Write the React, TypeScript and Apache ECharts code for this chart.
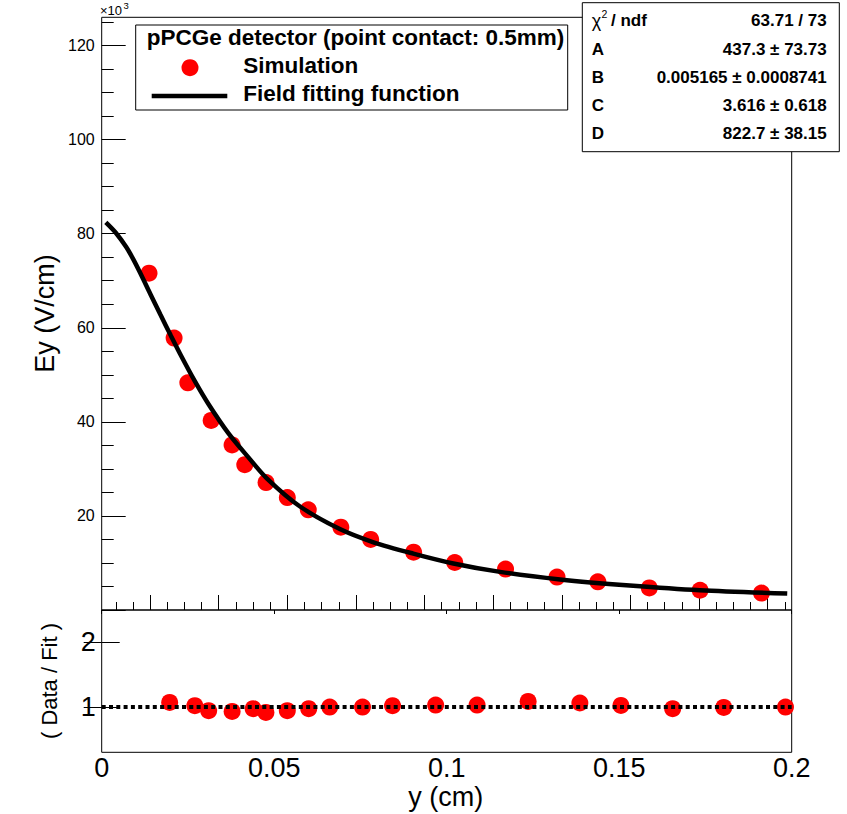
import React, { useEffect, useRef } from "react";
import * as echarts from "echarts";

// ---- data ----
const xPositions = [0.0197, 0.027, 0.031, 0.0378, 0.0439, 0.0476, 0.0538, 0.06, 0.0661, 0.0756, 0.0843, 0.0968, 0.1088, 0.1236, 0.1386, 0.1505, 0.1655, 0.1803, 0.1982];
const eyValues = [71.6, 57.8, 48.3, 40.3, 35.1, 30.9, 27.1, 23.9, 21.3, 17.6, 15.0, 12.3, 10.1, 8.7, 7.0, 6.0, 4.7, 4.2, 3.6];
const ratioValues = [1.071, 1.02, 0.943, 0.932, 0.974, 0.917, 0.943, 0.974, 1.0, 1.0, 1.02, 1.03, 1.03, 1.087, 1.062, 1.025, 0.974, 0.994, 1.0];
const fitX = [0.0071, 0.01, 0.013, 0.015, 0.0171, 0.02, 0.023, 0.026, 0.029, 0.033, 0.037, 0.0428, 0.0486, 0.054, 0.0637, 0.0753, 0.0851, 0.0967, 0.1084, 0.122, 0.1395, 0.1598, 0.1802, 0.2057];
const fitY = [82.4, 80.2, 77.2, 74.7, 71.7, 67.3, 62.8, 58.4, 54.1, 48.7, 43.8, 37.6, 32.5, 28.0, 22.0, 17.2, 14.4, 12.0, 9.9, 8.1, 6.5, 5.2, 4.2, 3.5];
const refLineX = [0, 0.2];
const refLineY = [1, 1];

const topYMajorTicks = [0, 20, 40, 60, 80, 100, 120];
const topYLabels = [20, 40, 60, 80, 100, 120];
const topYMinorTicks = [5, 10, 15, 25, 30, 35, 45, 50, 55, 65, 70, 75, 85, 90, 95, 105, 110, 115, 125];
const topXMajorTicks = [0.02, 0.04, 0.06, 0.08, 0.1, 0.12, 0.14, 0.16, 0.18, 0.2];
const topXMinorTicks = [0.01, 0.015, 0.025, 0.03, 0.035, 0.045, 0.05, 0.055, 0.065, 0.07, 0.075, 0.085, 0.09, 0.095, 0.105, 0.11, 0.115, 0.125, 0.13, 0.135, 0.145, 0.15, 0.155, 0.165, 0.17, 0.175, 0.185, 0.19, 0.195, 0.205];
const ratioTicks = [1, 2];

const legendTitle = "pPCGe detector (point contact: 0.5mm)";
const legendSim = "Simulation";
const legendFit = "Field fitting function";
const statNames = ["A", "B", "C", "D"];
const statValues = ["437.3 \u00b1 73.73", "0.005165 \u00b1 0.0008741", "3.616 \u00b1 0.618", "822.7 \u00b1 38.15"];
const chiValue = "63.71 / 73";

const FF = "'Liberation Sans', Arial, Helvetica, sans-serif";

function txt(x: number, y: number, text: string, font: string, align: string = "left", extra: any = {}) {
  return {
    type: "text",
    x,
    y,
    z: 100,
    ...extra,
    style: {
      text,
      font,
      fill: "#000",
      textAlign: align,
      align,
      textVerticalAlign: "middle",
      verticalAlign: "middle",
    },
  };
}

export default function App() {
  const ref = useRef<HTMLDivElement>(null);
  useEffect(() => {
    if (!ref.current) return;
    const chart = echarts.init(ref.current, undefined, { renderer: "svg" });
    const tickStyle = { color: "#000", width: 1 };

    const graphic: any[] = [];
    // legend box
    graphic.push({
      type: "rect",
      z: 99,
      shape: { x: 135.7, y: 25, width: 432, height: 85 },
      style: { fill: "#fff", stroke: "#000", lineWidth: 1 },
    });
    graphic.push(txt(146.7, 37.2, legendTitle, `bold 22.5px ${FF}`));
    graphic.push({ type: "circle", z: 100, shape: { cx: 190, cy: 67.7, r: 8.5 }, style: { fill: "#ff0000" } });
    graphic.push(txt(243.3, 65.5, legendSim, `bold 22.5px ${FF}`));
    graphic.push({ type: "line", z: 100, shape: { x1: 151.7, y1: 96, x2: 227.3, y2: 96 }, style: { stroke: "#000", lineWidth: 4.5 } });
    graphic.push(txt(243.3, 93.9, legendFit, `bold 22.5px ${FF}`));

    // stats box
    graphic.push({
      type: "rect",
      z: 99,
      shape: { x: 582.3, y: 2.7, width: 257, height: 149 },
      style: { fill: "#fff", stroke: "#000", lineWidth: 1 },
    });
    const rowY = [20.9, 49.2, 77.5, 105.9, 133.0];
    graphic.push(txt(591.7, rowY[0], "\u03c7", `18px ${FF}`));
    graphic.push(txt(601.5, rowY[0] - 6.5, "2", `10.5px ${FF}`));
    graphic.push(txt(611, rowY[0], "/ ndf", `bold 17px ${FF}`));
    graphic.push(txt(826.7, rowY[0], chiValue, `bold 17px ${FF}`, "right"));
    statNames.forEach((n, i) => {
      graphic.push(txt(591.7, rowY[i + 1], n, `bold 17px ${FF}`));
      graphic.push(txt(826.7, rowY[i + 1], statValues[i], `bold 17px ${FF}`, "right"));
    });

    // axis titles
    graphic.push(txt(45, 313.5, "Ey (V/cm)", `27px ${FF}`, "center", { rotation: Math.PI / 2 }));
    graphic.push(txt(49.5, 681, "( Data / Fit )", `22px ${FF}`, "center", { rotation: Math.PI / 2 }));
    graphic.push(txt(445.7, 797.3, "y (cm)", `27px ${FF}`, "center"));
    graphic.push(txt(100, 10.3, "\u00d710", `13px ${FF}`));
    graphic.push(txt(123.5, 5.2, "3", `9.5px ${FF}`));

    const hidden = { show: false };
    chart.setOption({
      animation: false,
      backgroundColor: "#fff",
      textStyle: { fontFamily: FF },
      grid: [
        { left: 101.7, top: 17.3, width: 690, height: 592.7, show: true, borderColor: "#000", borderWidth: 1, backgroundColor: "transparent" },
        { left: 101.7, top: 610, width: 690, height: 142.3, show: true, borderColor: "#000", borderWidth: 1, backgroundColor: "transparent" },
      ],
      xAxis: [
        {
          type: "value", gridIndex: 0, position: "bottom", min: 0.0059, max: 0.207,
          axisLine: hidden, splitLine: hidden, axisLabel: hidden,
          axisTick: { show: true, inside: true, length: 15, customValues: topXMajorTicks, lineStyle: tickStyle },
        },
        {
          type: "value", gridIndex: 0, position: "bottom", min: 0.0059, max: 0.207,
          axisLine: hidden, splitLine: hidden, axisLabel: hidden,
          axisTick: { show: true, inside: true, length: 8, customValues: topXMinorTicks, lineStyle: tickStyle },
        },
        {
          type: "value", gridIndex: 1, position: "bottom", min: 0, max: 0.2, interval: 0.05,
          axisLine: hidden, splitLine: hidden, axisTick: hidden,
          axisLabel: { show: true, fontSize: 27, color: "#000", margin: 2, fontFamily: FF, formatter: (v: number) => String(v) },
        },
        {
          type: "value", gridIndex: 1, position: "top", min: 0, max: 0.2, interval: 0.05,
          axisLine: hidden, splitLine: hidden, axisLabel: hidden,
          axisTick: { show: true, inside: true, length: 4, lineStyle: tickStyle },
        },
      ],
      yAxis: [
        {
          type: "value", gridIndex: 0, position: "left", min: 0, max: 126,
          axisLine: hidden, splitLine: hidden,
          axisTick: { show: true, inside: true, length: 24, customValues: topYMajorTicks, lineStyle: tickStyle },
          axisLabel: { show: true, fontSize: 16, color: "#000", margin: 7, fontFamily: FF, customValues: topYLabels },
        },
        {
          type: "value", gridIndex: 0, position: "left", min: 0, max: 126,
          axisLine: hidden, splitLine: hidden, axisLabel: hidden,
          axisTick: { show: true, inside: true, length: 12, customValues: topYMinorTicks, lineStyle: tickStyle },
        },
        {
          type: "value", gridIndex: 1, position: "left", min: 0.3, max: 2.5,
          axisLine: hidden, splitLine: hidden,
          axisTick: { show: true, inside: true, length: 18, customValues: ratioTicks, lineStyle: tickStyle },
          axisLabel: { show: true, fontSize: 27, color: "#000", margin: 6, fontFamily: FF, customValues: ratioTicks },
        },
        {
          type: "value", gridIndex: 1, position: "right", min: 0.3, max: 2.5,
          axisLine: hidden, splitLine: hidden, axisLabel: hidden,
          axisTick: { show: true, inside: true, length: 18, customValues: ratioTicks, lineStyle: tickStyle },
        },
      ],
      series: [
        {
          name: legendSim, type: "scatter", xAxisIndex: 0, yAxisIndex: 0, z: 2,
          symbol: "circle", symbolSize: 17,
          itemStyle: { color: "#ff0000", opacity: 1 },
          data: xPositions.map((x, i) => [x, eyValues[i]]),
        },
        {
          name: legendFit, type: "line", xAxisIndex: 0, yAxisIndex: 0, z: 3,
          symbol: "none", showSymbol: false, smooth: 0.3,
          lineStyle: { color: "#000", width: 4.5 },
          data: fitX.map((x, i) => [x, fitY[i]]),
        },
        {
          name: "ratio", type: "scatter", xAxisIndex: 2, yAxisIndex: 2, z: 2,
          symbol: "circle", symbolSize: 17,
          itemStyle: { color: "#ff0000", opacity: 1 },
          data: xPositions.map((x, i) => [x, ratioValues[i]]),
        },
        {
          name: "unity", type: "line", xAxisIndex: 2, yAxisIndex: 2, z: 3,
          symbol: "none", showSymbol: false,
          lineStyle: { color: "#000", width: 4, type: [4, 3.3] },
          data: refLineX.map((x, i) => [x, refLineY[i]]),
        },
      ],
      graphic,
    });
    return () => chart.dispose();
  }, []);
  return <div ref={ref} style={{ position: "fixed", left: 0, top: 0, width: 847, height: 814 }} />;
}
